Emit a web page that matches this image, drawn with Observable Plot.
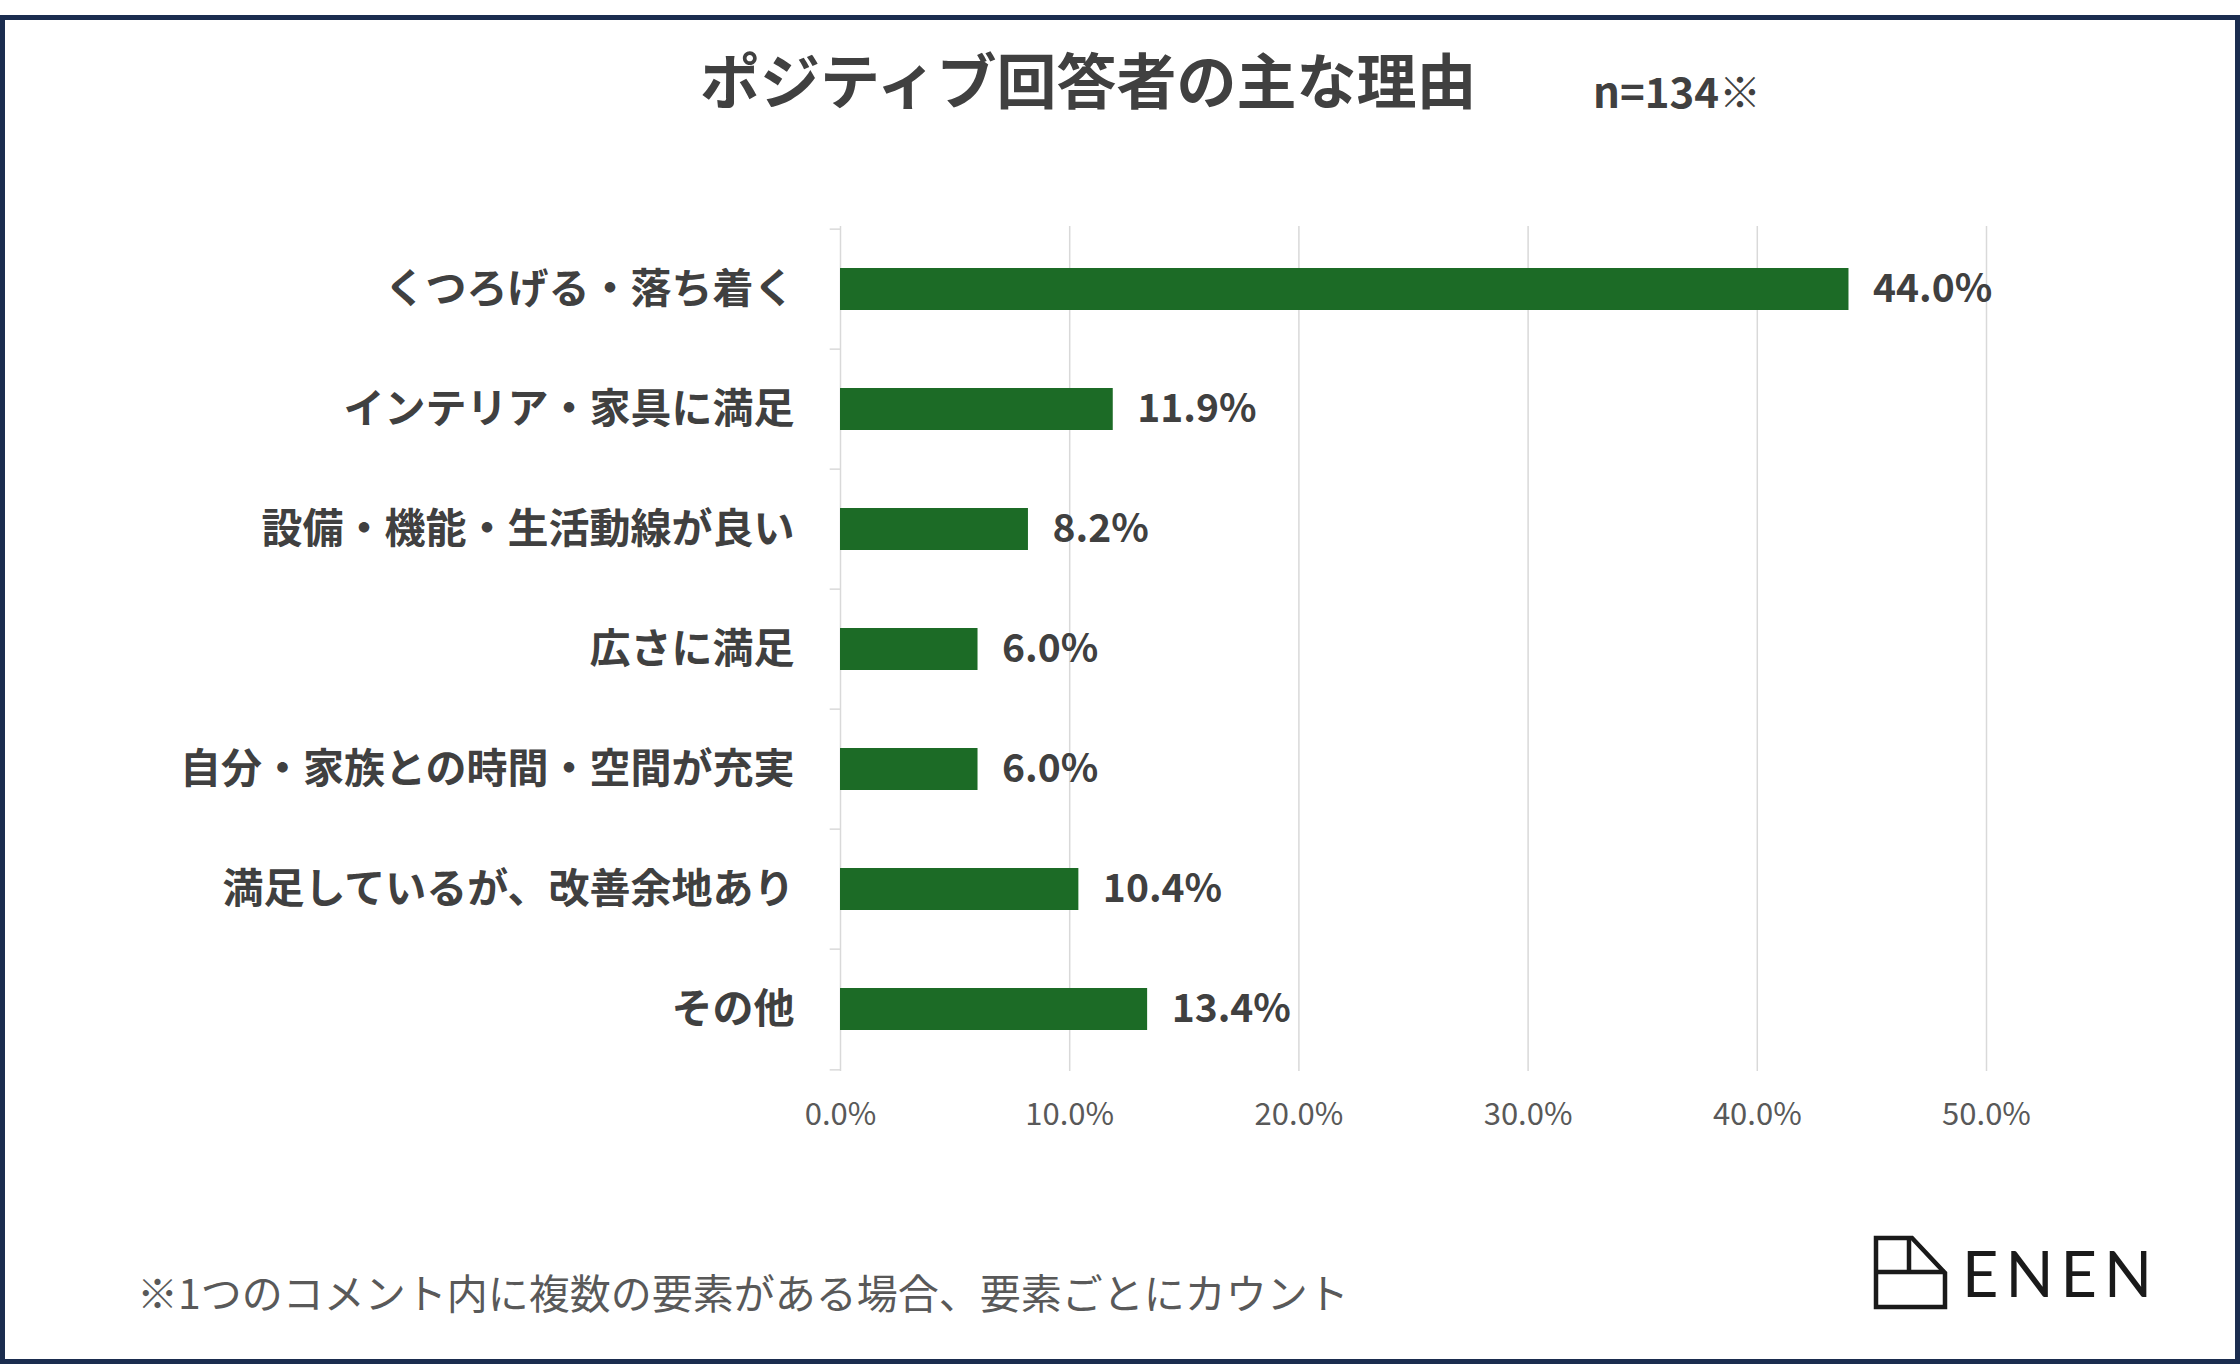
<!DOCTYPE html>
<html>
<head>
<meta charset="utf-8">
<script src="https://cdn.jsdelivr.net/npm/d3@7"></script>
<script src="https://cdn.jsdelivr.net/npm/@observablehq/plot@0.6"></script>
<style>
  html, body { margin: 0; padding: 0; background: #ffffff; }
  body { width: 2240px; height: 1364px; position: relative; overflow: hidden;
         font-family: "Noto Sans CJK JP", "Noto Sans", sans-serif; }
  #frame { position: absolute; left: 0; top: 15px; width: 2240px; height: 1349px;
           box-sizing: border-box; border: 5px solid #1b2d4f; }
  .abs { position: absolute; line-height: 1; white-space: nowrap; }
  #title { left: 700px; top: 48px; font-size: 60px; font-weight: 700; color: #404040; }
  #nlabel { left: 1593px; top: 69px; font-size: 42px; font-weight: 700; color: #404040; }
  #note { left: 137px; top: 1271px; font-size: 41px; font-weight: 400; color: #595959; }
  #chart { position: absolute; left: 0; top: 0; }
  #logo { position: absolute; left: 1868px; top: 1232px; }
</style>
</head>
<body>
<div id="frame"></div>
<div id="chart"></div>
<div class="abs" id="title">ポジティブ回答者の主な理由</div>
<div class="abs" id="nlabel">n=134※</div>
<div class="abs" id="note">※1つのコメント内に複数の要素がある場合、要素ごとにカウント</div>
<svg id="logo" width="300" height="84" viewBox="0 0 300 84">
  <g fill="none" stroke="#1a1a1a" stroke-width="4.5" stroke-linejoin="miter">
    <path d="M8 6 H44 L77 41 V75 H8 Z"/>
    <path d="M8 40 H77"/>
    <path d="M41 6 V40"/>
  </g>
  <text x="94" y="65" font-family="Lato, 'Open Sans', sans-serif" font-size="63" font-weight="400" fill="#1a1a1a" textLength="190" lengthAdjust="spacing">ENEN</text>
</svg>
<script>
const categories = [
  "くつろげる・落ち着く",
  "インテリア・家具に満足",
  "設備・機能・生活動線が良い",
  "広さに満足",
  "自分・家族との時間・空間が充実",
  "満足しているが、改善余地あり",
  "その他"
];
const values = [44.0, 11.9, 8.2, 6.0, 6.0, 10.4, 13.4];
const xTicks = [0, 10, 20, 30, 40, 50];

const data = categories.map((c, i) => ({category: c, value: values[i]}));
const pct = d => d.toFixed(1) + "%";

const marginTop = 226, marginBottom = 129, height = 1200;
const step = (height - marginTop - marginBottom) / categories.length;

const chart = Plot.plot({
  width: 2240,
  height,
  marginLeft: 840,
  marginRight: 254,
  marginTop,
  marginBottom,
  x: {domain: [0, 50], ticks: xTicks, tickFormat: pct},
  y: {domain: categories, paddingInner: 0.65, paddingOuter: 0.325},
  style: {fontFamily: "'Noto Sans CJK JP', 'Noto Sans', sans-serif", background: "transparent", color: "#404040"},
  marks: [
    Plot.ruleX(xTicks, {stroke: "#d9d9d9", strokeWidth: 1.5}),
    Plot.ruleY(categories, {y: d => d, dy: -step / 2, x1: -0.45, x2: 0, stroke: "#d9d9d9", strokeWidth: 1.5}),
    Plot.ruleY(categories.slice(-1), {y: d => d, dy: step / 2, x1: -0.45, x2: 0, stroke: "#d9d9d9", strokeWidth: 1.5}),
    Plot.barX(data, {x: "value", y: "category", fill: "#1c6b26"}),
    Plot.text(data, {x: "value", y: "category", text: d => pct(d.value), dx: 24, textAnchor: "start",
                     fontSize: 39, fontWeight: "bold", fill: "#404040"}),
    Plot.axisX({ticks: xTicks, tickFormat: pct, tickSize: 0, tickPadding: 31, fontSize: 31,
                fill: "#595959", label: null}),
    Plot.axisY({tickSize: 0, tickPadding: 46, fontSize: 41, fontWeight: "bold", fill: "#404040", label: null})
  ]
});
document.getElementById("chart").appendChild(chart);
</script>
</body>
</html>
